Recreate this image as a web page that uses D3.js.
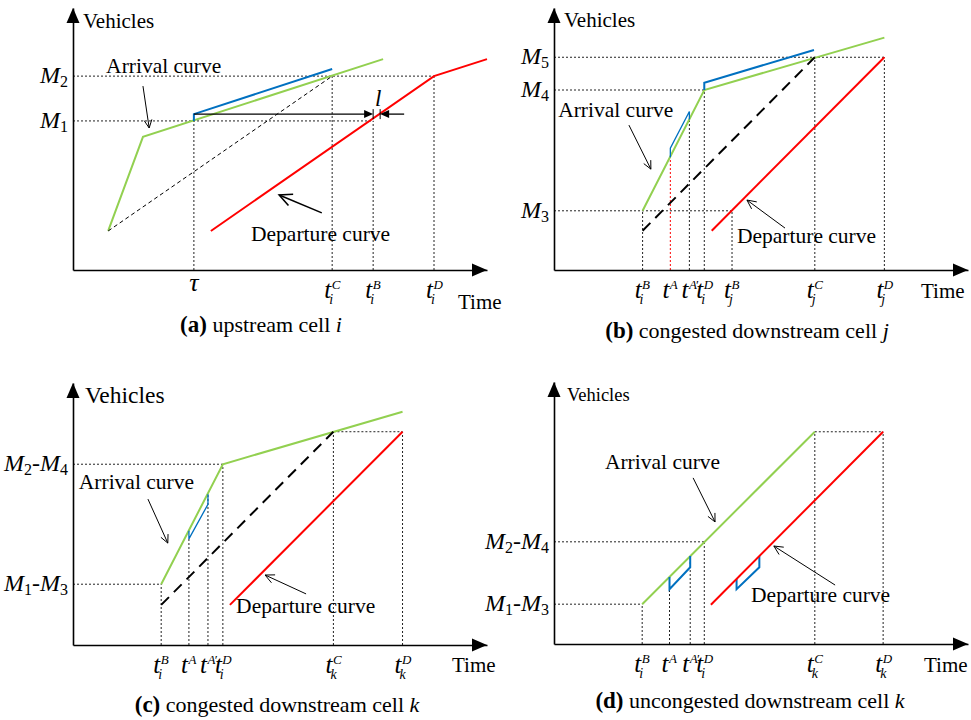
<!DOCTYPE html>
<html>
<head>
<meta charset="utf-8">
<script src="https://cdn.jsdelivr.net/npm/d3@7"></script>
<style>
  body { margin: 0; background: #fff; }
  svg { display: block; }
  text { font-family: "Liberation Serif", "Times New Roman", serif; fill: #000; }
</style>
</head>
<body>
<svg id="fig" width="971" height="720"></svg>
<script>
const GREEN = "#92d050", BLUE = "#0070c0", RED = "#ff0000";

// values are in 0..100 "time" and "vehicles" units of each panel

// (a) upstream cell i
const aArrival = [[8.5, 14.9], [16.9, 50.8], [74.9, 80.5]];
const aQueues = [[[29.2, 56.9], [29.2, 59.5], [62.6, 76.7]]];
const aVirtual = [[8.5, 14.9], [62.6, 74.0]];
const aDeparture = [[33.3, 14.9], [87.2, 74.0], [100, 80.5]];
const aTimes = [29.2, 62.6, 72.5, 87.2];
const aTimeLabels = [["τ"], ["t", "C", "i"], ["t", "B", "i"], ["t", "D", "i"]];
const aLevels = [56.9, 74.0];
const aLevelLabels = [[["M", "1"]], [["M", "2"]]];
const aHGuides = [[0, 72.5, 56.9], [0, 87.2, 74.0]];
const aVGuides = [[29.2, 56.9], [62.6, 74.0], [72.5, 56.9], [87.2, 74.0]];

// (b) congested downstream cell j
const bArrival = [[21.4, 22.6], [36.3, 68.7], [79.8, 88.7]];
const bQueues = [[[28.1, 43.0], [28.1, 46.5], [32.7, 60.5], [32.7, 57.4]],
                 [[36.3, 68.7], [36.3, 71.5], [62.8, 84.0]]];
const bVirtual = [[21.4, 15.0], [63.0, 81.2]];
const bDeparture = [[38.1, 15.0], [79.8, 81.2]];
const bTimes = [21.4, 28.1, 32.7, 36.3, 43.0, 63.0, 79.8];
const bTimeLabels = [["t", "B", "i"], ["t", "A", ""], ["t", "A′", ""], ["t", "D", "i"],
                     ["t", "B", "j"], ["t", "C", "j"], ["t", "D", "j"]];
const bLevels = [22.6, 68.7, 81.2];
const bLevelLabels = [[["M", "3"]], [["M", "4"]], [["M", "5"]]];
const bHGuides = [[0, 43.0, 22.6], [0, 36.3, 68.7], [0, 79.8, 81.2]];
const bVGuides = [[21.4, 22.6], [32.7, 57.4], [36.3, 68.7], [43.0, 22.6], [63.0, 81.2], [79.8, 81.2]];
const bRedGuides = [[28.1, 43.0]];

// (c) congested downstream cell k
const cArrival = [[21.3, 23.2], [36.2, 69.0], [79.6, 89.0]];
const cQueues = [[[28.0, 43.6], [28.0, 40.5], [32.6, 53.7], [32.6, 57.5]]];
const cVirtual = [[21.3, 15.3], [62.9, 81.4]];
const cDeparture = [[37.9, 15.3], [79.6, 81.4]];
const cTimes = [21.3, 28.0, 32.6, 36.2, 62.9, 79.6];
const cTimeLabels = [["t", "B", "i"], ["t", "A", ""], ["t", "A′", ""], ["t", "D", "i"],
                     ["t", "C", "k"], ["t", "D", "k"]];
const cLevels = [23.2, 69.0];
const cLevelLabels = [[["M", "1"], ["M", "3"]], [["M", "2"], ["M", "4"]]];
const cHGuides = [[0, 21.3, 23.2], [0, 36.2, 69.0], [62.9, 79.6, 81.4]];
const cVGuides = [[21.3, 23.2], [28.0, 40.5], [32.6, 57.5], [36.2, 69.0], [62.9, 81.4], [79.6, 81.4]];

// (d) uncongested downstream cell k
const dArrival = [[21.3, 15.2], [63.0, 81.0]];
const dQueues = [[[27.9, 25.6], [27.9, 20.9], [32.9, 29.3], [32.9, 33.6]],
                 [[44.1, 24.8], [44.1, 20.9], [49.6, 29.3], [49.6, 33.6]]];
const dDeparture = [[37.9, 15.0], [79.5, 81.0]];
const dTimes = [21.3, 27.9, 32.9, 36.3, 63.0, 79.5];
const dTimeLabels = cTimeLabels;
const dLevels = [15.2, 39.0];
const dLevelLabels = cLevelLabels;
const dHGuides = [[0, 21.3, 15.2], [0, 36.3, 39.0], [63.0, 79.5, 81.0]];
const dVGuides = [[21.3, 15.2], [27.9, 20.9], [32.9, 33.6], [36.3, 39.0], [63.0, 81.0], [79.5, 81.0]];

const panels = [
  { ox: 73, oy: 270, arrival: aArrival, queues: aQueues, queueW: [2], virtual: aVirtual, thin: true,
    departure: aDeparture, times: aTimes, timeLabels: aTimeLabels, levels: aLevels, levelLabels: aLevelLabels,
    hGuides: aHGuides, vGuides: aVGuides, redGuides: [],
    arrTxt: [8.0, 75.2], depTxt: [43.0, 11.1],
    arrPtr: [[16.9, 70.2], [18.4, 54.2]], depPtr: [[60.1, 21.8], [49.8, 28.6]], depBig: true,
    veh: [10, -242, 21], time: [385, 39], cap: [261, 332, "(a)", " upstream cell ", "i"] },
  { ox: 554, oy: 270, arrival: bArrival, queues: bQueues, queueW: [1.3, 2], virtual: bVirtual,
    departure: bDeparture, times: bTimes, timeLabels: bTimeLabels, levels: bLevels, levelLabels: bLevelLabels,
    hGuides: bHGuides, vGuides: bVGuides, redGuides: bRedGuides,
    arrTxt: [1.0, 58.4], depTxt: [44.2, 10.3],
    arrPtr: [[18.1, 55.3], [23.4, 38.5]], depPtr: [[55.8, 16.0], [46.6, 26.7]],
    veh: [10, -243, 21], time: [367, 28], cap: [747, 338, "(b)", " congested downstream cell ", "j"] },
  { ox: 73, oy: 645, arrival: cArrival, queues: cQueues, queueW: [1.3], virtual: cVirtual,
    departure: cDeparture, times: cTimes, timeLabels: cTimeLabels, levels: cLevels, levelLabels: cLevelLabels,
    hGuides: cHGuides, vGuides: cVGuides, redGuides: [],
    arrTxt: [1.4, 59.5], depTxt: [39.4, 12.2],
    arrPtr: [[18.1, 55.7], [22.9, 38.9]], depPtr: [[56.3, 19.5], [46.4, 26.7]],
    veh: [12, -242, 23.5], time: [379, 27], cap: [277, 712, "(c)", " congested downstream cell ", "k"] },
  { ox: 554, oy: 644, arrival: dArrival, queues: dQueues, queueW: [2, 2], virtual: null,
    departure: dDeparture, times: dTimes, timeLabels: dTimeLabels, levels: dLevels, levelLabels: dLevelLabels,
    hGuides: dHGuides, vGuides: dVGuides, redGuides: [],
    arrTxt: [12.3, 66.8], depTxt: [47.6, 16.0],
    arrPtr: [[33.6, 63.4], [38.9, 46.6]], depPtr: [[67.9, 22.5], [53.1, 37.4]],
    veh: [13, -243, 18.5], time: [370, 28], cap: [750, 708, "(d)", " uncongested downstream cell ", "k"] }
];

const W = 414, H = 262;
const x = d3.scaleLinear().domain([0, 100]).range([0, W]);
const y = d3.scaleLinear().domain([0, 100]).range([0, -H]);
const line = d3.line().x(d => x(d[0])).y(d => y(d[1]));
const svg = d3.select("#fig");

function pointer(g, p0, p1, len, w) {
  const x0 = x(p0[0]), y0 = y(p0[1]), x1 = x(p1[0]), y1 = y(p1[1]);
  const a = Math.atan2(y1 - y0, x1 - x0);
  g.append("line").attr("x1", x0).attr("y1", y0).attr("x2", x1).attr("y2", y1)
    .attr("stroke", "#000").attr("stroke-width", w);
  const s = 0.45;
  g.append("path")
    .attr("d", `M${x1 - len * Math.cos(a - s)},${y1 - len * Math.sin(a - s)}L${x1},${y1}L${x1 - len * Math.cos(a + s)},${y1 - len * Math.sin(a + s)}`)
    .attr("fill", "none").attr("stroke", "#000").attr("stroke-width", w);
}

function filledHead(g, px, py, dir, len, hw) {
  // dir: +1 pointing right, -1 pointing left
  g.append("path")
    .attr("d", `M${px},${py}L${px - dir * len},${py - hw}L${px - dir * len},${py + hw}Z`)
    .attr("fill", "#000");
}

panels.forEach(p => {
  const g = svg.append("g").attr("transform", `translate(${p.ox},${p.oy})`);

  // dotted guides
  const guide = (sel, col) => sel.attr("stroke", col).attr("stroke-width", 1).attr("stroke-dasharray", "2,2");
  g.selectAll(".hg").data(p.hGuides).enter().append("line")
    .attr("x1", d => x(d[0])).attr("x2", d => x(d[1])).attr("y1", d => y(d[2])).attr("y2", d => y(d[2]))
    .call(guide, "#222");
  g.selectAll(".vg").data(p.vGuides).enter().append("line")
    .attr("x1", d => x(d[0])).attr("x2", d => x(d[0])).attr("y1", 0).attr("y2", d => y(d[1]))
    .call(guide, "#222");
  g.selectAll(".rg").data(p.redGuides).enter().append("line")
    .attr("x1", d => x(d[0])).attr("x2", d => x(d[0])).attr("y1", 0).attr("y2", d => y(d[1]))
    .call(guide, RED);

  // axes
  const xa = g.append("g").call(d3.axisBottom(x).tickValues([]).tickSizeOuter(0));
  const ya = g.append("g").call(d3.axisLeft(y).tickValues([]).tickSizeOuter(0));
  [xa, ya].forEach(a => a.select(".domain").attr("stroke-width", 1.6));
  g.append("path").attr("d", `M${x(100)},0L${x(100) - 15},-6.5L${x(100) - 15},6.5Z`).attr("fill", "#000");
  g.append("path").attr("d", `M0,${y(100)}L-6.5,${y(100) + 15}L6.5,${y(100) + 15}Z`).attr("fill", "#000");

  // curves
  g.append("path").attr("d", line(p.arrival)).attr("fill", "none").attr("stroke", GREEN).attr("stroke-width", 2);
  p.queues.forEach((q, i) => {
    g.append("path").attr("d", line(q)).attr("fill", "none").attr("stroke", BLUE)
      .attr("stroke-width", p.queueW[i]).attr("stroke-linejoin", "miter");
  });
  if (p.virtual) {
    g.append("path").attr("d", line(p.virtual)).attr("fill", "none").attr("stroke", "#000")
      .attr("stroke-width", p.thin ? 1 : 2).attr("stroke-dasharray", p.thin ? "4,3" : "11,7");
  }
  g.append("path").attr("d", line(p.departure)).attr("fill", "none").attr("stroke", RED).attr("stroke-width", 2);

  // queue length marker in (a)
  if (p.thin) {
    const yl = y(aQueues[0][1][1]);
    g.append("line").attr("x1", x(aTimes[0])).attr("x2", x(aTimes[2]) - 8).attr("y1", yl).attr("y2", yl)
      .attr("stroke", "#000").attr("stroke-width", 1.3);
    filledHead(g, x(aTimes[2]), yl, 1, 9, 4);
    const xr = x(aTimes[2]) + 7;
    g.append("line").attr("x1", x(aTimes[2])).attr("x2", x(aTimes[2])).attr("y1", yl - 5).attr("y2", yl + 5)
      .attr("stroke", "#000").attr("stroke-width", 1);
    g.append("line").attr("x1", xr).attr("x2", xr).attr("y1", yl - 5).attr("y2", yl + 5)
      .attr("stroke", "#000").attr("stroke-width", 1);
    g.append("line").attr("x1", xr + 8).attr("x2", xr + 24).attr("y1", yl).attr("y2", yl)
      .attr("stroke", "#000").attr("stroke-width", 1.3);
    filledHead(g, xr, yl, -1, 9, 4);
    g.append("text").attr("x", x(aTimes[2]) + 5).attr("y", yl - 8).attr("text-anchor", "middle")
      .style("font-style", "italic").style("font-size", "23px").text("l");
  }

  // annotations
  g.append("text").attr("x", x(p.arrTxt[0])).attr("y", y(p.arrTxt[1])).style("font-size", "21.5px").text("Arrival curve");
  g.append("text").attr("x", x(p.depTxt[0])).attr("y", y(p.depTxt[1])).style("font-size", "21.5px").text("Departure curve");
  pointer(g, p.arrPtr[0], p.arrPtr[1], 9, 1);
  pointer(g, p.depPtr[0], p.depPtr[1], p.depBig ? 14 : 10, p.depBig ? 1.6 : 1);

  // axis titles
  g.append("text").attr("x", p.veh[0]).attr("y", p.veh[1]).style("font-size", p.veh[2] + "px").text("Vehicles");
  g.append("text").attr("x", p.time[0]).attr("y", p.time[1]).style("font-size", "21px").text("Time");

  // time tick labels
  p.times.forEach((t, i) => {
    const lab = p.timeLabels[i], tx = x(t);
    if (lab.length === 1) {
      g.append("text").attr("x", tx).attr("y", 21).attr("text-anchor", "middle")
        .style("font-style", "italic").style("font-size", "26px").text(lab[0]);
      return;
    }
    g.append("text").attr("x", tx - 1).attr("y", 28).attr("text-anchor", "end")
      .style("font-style", "italic").style("font-size", "25px").text(lab[0]);
    g.append("text").attr("x", tx - 0.5).attr("y", 19)
      .style("font-style", "italic").style("font-size", "13px")
      .style("letter-spacing", lab[1].length > 1 ? "-1.5px" : null).text(lab[1]);
    if (lab[2]) g.append("text").attr("x", tx - 3).attr("y", 34)
      .style("font-style", "italic").style("font-size", "14px").text(lab[2]);
  });

  // vehicle level labels
  p.levels.forEach((v, i) => {
    const t = g.append("text").attr("x", -5).attr("y", y(v) + 7).attr("text-anchor", "end").style("font-size", "24px");
    p.levelLabels[i].forEach((m, k) => {
      if (k > 0) t.append("tspan").attr("dy", -4).text("-");
      t.append("tspan").attr("dy", k > 0 ? 0 : null).style("font-style", "italic").text(m[0]);
      t.append("tspan").attr("dy", 4).style("font-size", "16px").text(m[1]);
    });
  });

  // caption
  const c = svg.append("text").attr("x", p.cap[0]).attr("y", p.cap[1]).attr("text-anchor", "middle").style("font-size", "22px");
  c.append("tspan").style("font-weight", "bold").style("font-size", "23px").text(p.cap[2]);
  c.append("tspan").text(p.cap[3]);
  c.append("tspan").style("font-style", "italic").text(p.cap[4]);
});
</script>
</body>
</html>
